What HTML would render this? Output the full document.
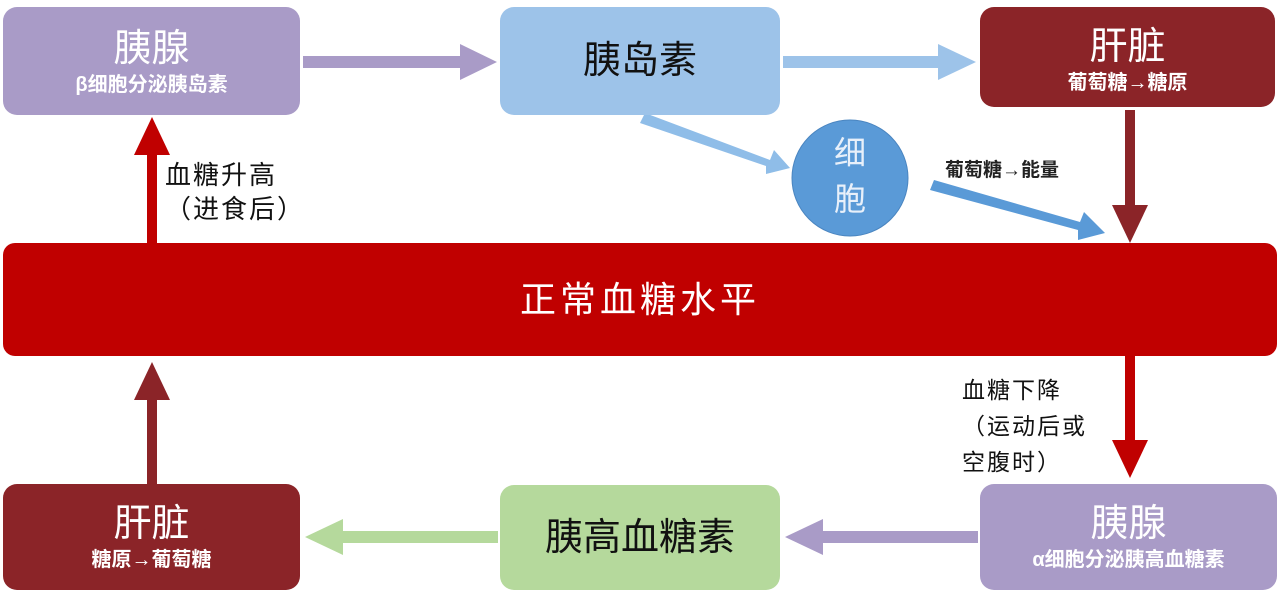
<!DOCTYPE html>
<html><head><meta charset="utf-8"><style>
body{margin:0;width:1280px;height:598px;background:#fff;position:relative;overflow:hidden;font-family:"Liberation Sans","Noto Sans CJK SC",sans-serif}
.b{position:absolute;border-radius:14px;text-align:center;color:#fff}
.t{font-size:38px;line-height:40px}
.s{font-size:20px;font-weight:bold;line-height:24px;margin-top:4px}
.l{position:absolute;font-size:26px;color:#111;letter-spacing:2px;line-height:34px}
</style></head><body>
<svg width="1280" height="598" style="position:absolute;left:0;top:0">
<g fill="#a99bc7"><rect x="303" y="56" width="160" height="12"/><polygon points="460,44 497,62 460,80"/></g>
<g fill="#9dc3e9"><rect x="783" y="56" width="158" height="12"/><polygon points="938,44 976,62 938,80"/></g>
<g fill="#8fbde8"><polygon points="640,123 645,113 770,160 774,150 790,168 766,174 766,166"/></g>
<g fill="#5a9ad7"><polygon points="930,190 934,180 1080,222 1084,212 1105,233 1078,240 1078,230"/></g>
<g fill="#8b2428"><rect x="1125" y="110" width="10" height="100"/><polygon points="1112,205 1148,205 1130,243"/></g>
<g fill="#c00000"><rect x="147" y="150" width="10" height="95"/><polygon points="134,155 170,155 152,117"/></g>
<g fill="#c00000"><rect x="1125" y="355" width="10" height="90"/><polygon points="1112,440 1148,440 1130,478"/></g>
<g fill="#8b2428"><rect x="147" y="395" width="10" height="90"/><polygon points="134,400 170,400 152,362"/></g>
<g fill="#b5d99c"><rect x="340" y="531" width="158" height="12"/><polygon points="343,519 305,537 343,555"/></g>
<g fill="#a99bc7"><rect x="820" y="531" width="158" height="12"/><polygon points="823,519 785,537 823,555"/></g>
<circle cx="850" cy="178" r="58" fill="#5a9ad7" stroke="#4a85c0" stroke-width="1"/>
</svg>
<div class="b" style="left:3px;top:7px;width:297px;height:108px;background:#a99bc7"><div class="t" style="margin-top:22px">胰腺</div><div class="s">β细胞分泌胰岛素</div></div>
<div class="b" style="left:500px;top:7px;width:280px;height:108px;background:#9dc3e9;color:#111"><div class="t" style="margin-top:34px">胰岛素</div></div>
<div class="b" style="left:980px;top:7px;width:295px;height:100px;background:#8b2428"><div class="t" style="margin-top:20px">肝脏</div><div class="s">葡萄糖→糖原</div></div>
<div style="position:absolute;left:822px;top:130px;width:56px;text-align:center;color:#e8f0fa;font-size:32px;line-height:46px">细<br>胞</div>
<div style="position:absolute;left:945px;top:155px;font-size:19px;font-weight:bold;color:#222">葡萄糖→能量</div>
<div class="l" style="left:165px;top:158px">血糖升高<br>（进食后）</div>
<div class="b" style="left:3px;top:243px;width:1274px;height:113px;background:#c00000;border-radius:12px"><div style="font-size:36px;line-height:113px;letter-spacing:4px">正常血糖水平</div></div>
<div class="l" style="left:962px;top:372px;font-size:23px;line-height:36px">血糖下降<br>（运动后或<br>空腹时）</div>
<div class="b" style="left:3px;top:484px;width:297px;height:106px;background:#8b2428"><div class="t" style="margin-top:20px">肝脏</div><div class="s">糖原→葡萄糖</div></div>
<div class="b" style="left:500px;top:485px;width:280px;height:105px;background:#b5d99c;color:#111"><div class="t" style="margin-top:33px">胰高血糖素</div></div>
<div class="b" style="left:980px;top:484px;width:297px;height:106px;background:#a99bc7"><div class="t" style="margin-top:20px">胰腺</div><div class="s">α细胞分泌胰高血糖素</div></div>
</body></html>
